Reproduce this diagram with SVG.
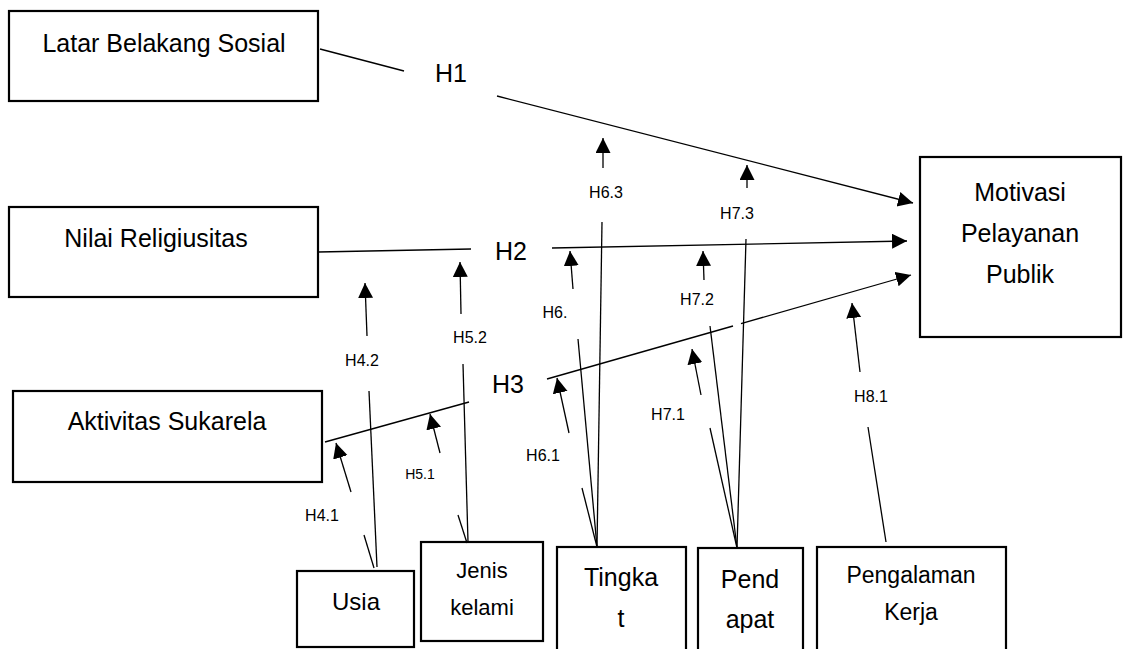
<svg xmlns="http://www.w3.org/2000/svg" width="1123" height="649" viewBox="0 0 1123 649">
<style>
.box{fill:#fff;stroke:#000;stroke-width:2.2}
.t{font-family:"Liberation Sans",Arial,sans-serif;fill:#000;text-anchor:middle}
.big{font-size:25px}
.sm{font-size:16px}
.c line{stroke:#000;stroke-width:1.3}
.ar{marker-end:url(#ah)}
</style>
<defs>
<marker id="ah" markerUnits="userSpaceOnUse" markerWidth="16" markerHeight="16" refX="15" refY="7.5" orient="auto">
<path d="M0,0 L15,7.5 L0,15 z" fill="#000"/>
</marker>
</defs>
<rect width="1123" height="649" fill="#fff"/>
<g id="latar"><rect class="box" x="9" y="11" width="309" height="90"/><text class="t big" x="164" y="52">Latar Belakang Sosial</text></g>
<g id="nilai"><rect class="box" x="9" y="207" width="309" height="90"/><text class="t big" x="156" y="247">Nilai Religiusitas</text></g>
<g id="aktivitas"><rect class="box" x="13" y="391" width="309" height="91"/><text class="t big" x="167" y="430">Aktivitas Sukarela</text></g>
<g id="motivasi"><rect class="box" x="920" y="157" width="201" height="180"/><text class="t big" x="1020" y="201">Motivasi</text><text class="t big" x="1020" y="242">Pelayanan</text><text class="t big" x="1020" y="283">Publik</text></g>
<g id="usia"><rect class="box" x="297" y="571" width="117" height="76"/><text class="t" style="font-size:24px" x="356" y="610">Usia</text></g>
<g id="jenis"><rect class="box" x="421" y="542" width="122" height="99"/><text class="t" style="font-size:22px" x="482" y="578">Jenis</text><text class="t" style="font-size:22px" x="482" y="615">kelami</text></g>
<g id="tingkat"><rect class="box" x="557" y="547" width="129" height="115"/><text class="t big" x="621" y="586">Tingka</text><text class="t big" x="621" y="627">t</text></g>
<g id="pendapat"><rect class="box" x="698" y="548" width="105" height="114"/><text class="t big" x="750" y="588">Pend</text><text class="t big" x="750" y="628">apat</text></g>
<g id="pengalaman"><rect class="box" x="817" y="547" width="189" height="115"/><text class="t" style="font-size:23px" x="911" y="583">Pengalaman</text><text class="t" style="font-size:23px" x="911" y="620">Kerja</text></g>
<g id="connectors" class="c">
<line x1="320" y1="49" x2="404" y2="71"/>
<line class="ar" x1="497" y1="96" x2="913" y2="203"/>
<line x1="318" y1="252" x2="471" y2="249"/>
<line class="ar" x1="552" y1="248" x2="907" y2="241"/>
<line x1="325" y1="442" x2="469" y2="402"/>
<line x1="547" y1="379" x2="733" y2="326"/>
<line class="ar" x1="741" y1="323.6" x2="911" y2="275"/>
<line x1="374" y1="568" x2="364" y2="535"/>
<line class="ar" x1="351" y1="492" x2="336" y2="443"/>
<line x1="377" y1="567" x2="369" y2="391"/>
<line class="ar" x1="367" y1="336" x2="365" y2="283"/>
<line x1="467" y1="543" x2="458" y2="515"/>
<line class="ar" x1="440" y1="453" x2="430" y2="414"/>
<line x1="468" y1="542" x2="463" y2="364"/>
<line class="ar" x1="461" y1="314" x2="460" y2="262"/>
<line x1="597" y1="547" x2="582" y2="488"/>
<line class="ar" x1="569" y1="433" x2="557" y2="378"/>
<line x1="597" y1="547" x2="578" y2="339"/>
<line class="ar" x1="573" y1="289" x2="570" y2="251"/>
<line x1="597" y1="547" x2="602" y2="222"/>
<line class="ar" x1="603" y1="168" x2="603" y2="138"/>
<line x1="737" y1="548" x2="710" y2="428"/>
<line class="ar" x1="701" y1="395" x2="692" y2="349"/>
<line x1="737" y1="548" x2="710" y2="326"/>
<line class="ar" x1="704" y1="280" x2="703" y2="251"/>
<line x1="737" y1="548" x2="746" y2="239"/>
<line class="ar" x1="747" y1="188" x2="747" y2="165"/>
<line x1="886" y1="542" x2="868" y2="427"/>
<line class="ar" x1="860" y1="372" x2="852" y2="303"/>
</g>
<g id="labels">
<text class="t big" x="451" y="82">H1</text>
<text class="t big" x="511" y="260">H2</text>
<text class="t big" x="508" y="393">H3</text>
<text class="t sm" x="322" y="521">H4.1</text>
<text class="t sm" x="362" y="366">H4.2</text>
<text class="t" style="font-size:14px" x="420" y="479">H5.1</text>
<text class="t sm" x="470" y="343">H5.2</text>
<text class="t sm" x="543" y="461">H6.1</text>
<text class="t sm" x="555" y="318">H6.</text>
<text class="t sm" x="606" y="198">H6.3</text>
<text class="t sm" x="668" y="420">H7.1</text>
<text class="t sm" x="697" y="305">H7.2</text>
<text class="t sm" x="737" y="219">H7.3</text>
<text class="t sm" x="871" y="402">H8.1</text>
</g>
</svg>
